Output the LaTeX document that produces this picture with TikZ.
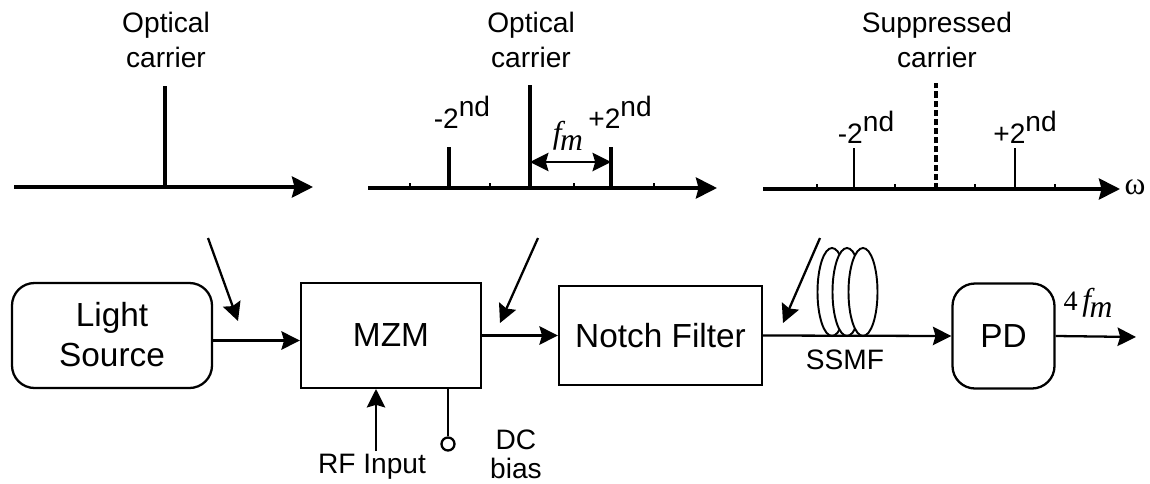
\documentclass[tikz,border=0pt]{standalone}
\usepackage{fontspec}
\usetikzlibrary{arrows.meta, shapes.geometric}
\setmainfont{Liberation Sans}
\newfontfamily\serfont{Liberation Serif}
\newcommand{\lbltext}{\fontsize{16}{19}\selectfont}
\newcommand{\boxtext}{\fontsize{19}{23}\selectfont}
\newcommand{\nth}[1]{#1\raisebox{0.42em}{nd}}
\newcommand{\fmtext}{{\fontsize{18}{20}\selectfont\serfont\itshape f\kern-0.05em\raisebox{-0.22em}{m}}}
\tikzset{
    conntip/.tip={Stealth[length=10.5pt, width=10.5pt, inset=1.5pt]},
    conn/.style={line width=1.3pt, -conntip},
    axisline/.style={line width=2pt, -{Stealth[length=12pt, width=12pt, inset=1.5pt]}},
    lblnode/.style={align=center, inner sep=0pt, font=\lbltext},
    blockbox/.style={draw=black, line width=1.3pt, inner sep=0pt, align=center, font=\boxtext},
    roundbox/.style={blockbox, rounded corners=4.5mm},
    spike/.style={line width=2pt},
    thinspike/.style={line width=1.4pt},
    tickmark/.style={line width=1.2pt},
    coil/.style={ellipse, draw=black, fill=white, line width=1.1pt, inner sep=0pt, minimum width=5.8mm, minimum height=17.6mm}
}

\begin{document}
\begin{tikzpicture}[x=0.2mm, y=-0.2mm]
    \useasboundingbox (0, 0) rectangle (1150, 484);

    % blocks
    \node[roundbox, minimum width=40mm, minimum height=21mm] (ls) at (112, 335.5) {\raisebox{1.5pt}{Light}\\\raisebox{1.5pt}{Source}};
    \node[blockbox, minimum width=36mm, minimum height=21mm] (mzm) at (391, 335.5) {MZM};
    \node[blockbox, minimum width=40.6mm, minimum height=19.8mm] (nf) at (660.5, 335.5) {Notch Filter};
    \node[roundbox, minimum width=20.4mm, minimum height=21mm] (pd) at (1003.5, 336) {PD};

    % fiber coil
    \node[coil] (c1) at (832, 292) {};
    \node[coil] (c2) at (847, 292) {};
    \node[coil] (c3) at (863, 292) {};
    \node[lblnode] (ssmf) at (845, 360) {SSMF};

    % main path
    \coordinate (out) at (1136, 337);
    \draw[conn] ([yshift=-1mm]ls.east) -- ([yshift=-1mm]mzm.west);
    \draw[conn] (mzm.east) -- (nf.west);
    \draw[conn] (nf.east) -- (pd.west);
    \draw[conn] (pd.east) -- (out);
    \node[inner sep=0pt, font=\lbltext] (ffm) at (1088, 303) {{\serfont 4\,}\fmtext};

    % inputs of the modulator
    \coordinate (rf) at (376, 451);
    \node[circle, draw=black, fill=white, line width=1.3pt, inner sep=0pt, minimum size=2.6mm] (dc) at (448, 444) {};
    \coordinate (dctop) at (448, 388);
    \draw[conn] (rf) -- (376, 389);
    \draw[line width=1.3pt] (dctop) -- (dc);
    \node[lblnode] (rflbl) at (372, 467) {RF Input};
    \node[lblnode] (dclbl) at (516, 454) {DC\\[-2.6pt]bias};

    % first spectrum
    \coordinate (a0) at (14, 187);
    \coordinate (a1) at (313, 187);
    \coordinate (k0) at (165, 187);
    \coordinate (k1) at (165, 86);
    \draw[axisline] (a0) -- (a1);
    \draw[spike] (k0) -- (k1);
    \node[lblnode] (t1) at (166, 40) {Optical\\[1pt]carrier};

    % second spectrum
    \coordinate (b0) at (368, 188);
    \coordinate (b1) at (717, 188);
    \coordinate (m0) at (530, 188);
    \coordinate (m1) at (530, 85);
    \coordinate (n0) at (449, 188);
    \coordinate (n1) at (449, 147);
    \coordinate (p0) at (611, 188);
    \coordinate (p1) at (611, 147);
    \draw[axisline] (b0) -- (b1);
    \foreach \x in {410, 490, 574, 654} {
        \draw[tickmark] (\x, 188) -- (\x, 183);
    }
    \draw[spike] (m0) -- (m1);
    \draw[spike] (n0) -- (n1);
    \draw[spike] (p0) -- (p1);
    \coordinate (g0) at (530, 162);
    \coordinate (g1) at (611, 162);
    \draw[line width=1.3pt, conntip-conntip] (g0) -- (g1);
    \node[inner sep=0pt, font=\lbltext] (fm) at (568, 136) {\fmtext};
    \node[lblnode] (t2) at (531, 40) {Optical\\[1pt]carrier};
    \node[lblnode] (n2) at (462, 112) {\nth{-2}};
    \node[lblnode] (p2) at (620, 112) {\nth{+2}};

    % third spectrum
    \coordinate (d0) at (763, 189);
    \coordinate (d1) at (1120, 189);
    \coordinate (e0) at (936, 189);
    \coordinate (e1) at (936, 83);
    \coordinate (q0) at (854, 189);
    \coordinate (q1) at (854, 148);
    \coordinate (r0) at (1015, 189);
    \coordinate (r1) at (1015, 148);
    \draw[axisline] (d0) -- (d1);
    \foreach \x in {817, 895, 975, 1055} {
        \draw[tickmark] (\x, 189) -- (\x, 184);
    }
    \draw[line width=2pt, dash pattern=on 3.5pt off 1.7pt] (e0) -- (e1);
    \draw[thinspike] (q0) -- (q1);
    \draw[thinspike] (r0) -- (r1);
    \node[lblnode] (t3) at (937, 40) {Suppressed\\[1pt]carrier};
    \node[lblnode] (n3) at (866, 127) {\nth{-2}};
    \node[lblnode] (p3) at (1025, 127) {\nth{+2}};
    \node[inner sep=0pt, font=\serfont\fontsize{18}{20}\selectfont] (om) at (1135, 187) {ω};

    % pointers from spectra to the path
    \coordinate (s1) at (208, 238);
    \coordinate (s2) at (238, 321);
    \coordinate (u1) at (538, 238);
    \coordinate (u2) at (500, 323);
    \coordinate (v1) at (820, 238);
    \coordinate (v2) at (783, 323);
    \draw[conn] (s1) -- (s2);
    \draw[conn] (u1) -- (u2);
    \draw[conn] (v1) -- (v2);
\end{tikzpicture}
\end{document}
